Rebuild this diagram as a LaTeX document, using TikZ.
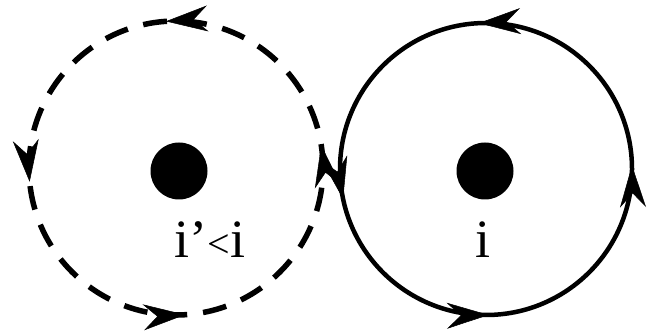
\documentclass[tikz,border=0pt]{standalone}
\usepackage{fontspec}
\setmainfont{Liberation Serif}
\usetikzlibrary{arrows.meta, decorations.markings}

\begin{document}
\begin{tikzpicture}[
  x=1pt, y=1pt,
  >={Stealth[length=42pt, width=26pt, inset=14pt, line width=0.5pt]},
  dot/.style={circle, fill=black, inner sep=0pt, minimum size=57pt},
  lbl/.style={font=\fontsize{54}{60}\selectfont, anchor=base, inner sep=0pt},
  ccw/.style n args={4}{decoration={markings,
      mark=at position #1 with {\arrow{>}},
      mark=at position #2 with {\arrow{>}},
      mark=at position #3 with {\arrow{>}},
      mark=at position #4 with {\arrow{>}}},
    postaction={decorate}},
  loopl/.style={line width=5.5pt, dash pattern=on 24pt off 16pt},
  loopr/.style={line width=4.5pt}
]
  \useasboundingbox (0,0) rectangle (647,334);

  % centres of the two loops
  \coordinate (lc) at (176,166);
  \coordinate (rc) at (486,165);

  % the two sites
  \node[dot] (ldot) at (179,163) {};
  \node[dot] (rdot) at (485,163) {};

  % loops, both counter-clockwise
  \draw[loopl, ccw={0.025}{0.261}{0.515}{0.76}] (lc) circle (147pt);
  \draw[loopr, ccw={0.004}{0.258}{0.533}{0.753}] (rc) circle (146pt);

  % labels
  \node[lbl] (llab) at (210,76) {i’{\fontsize{40}{44}\selectfont<}i};
  \node[lbl] (rlab) at (483,76) {i};
\end{tikzpicture}
\end{document}
